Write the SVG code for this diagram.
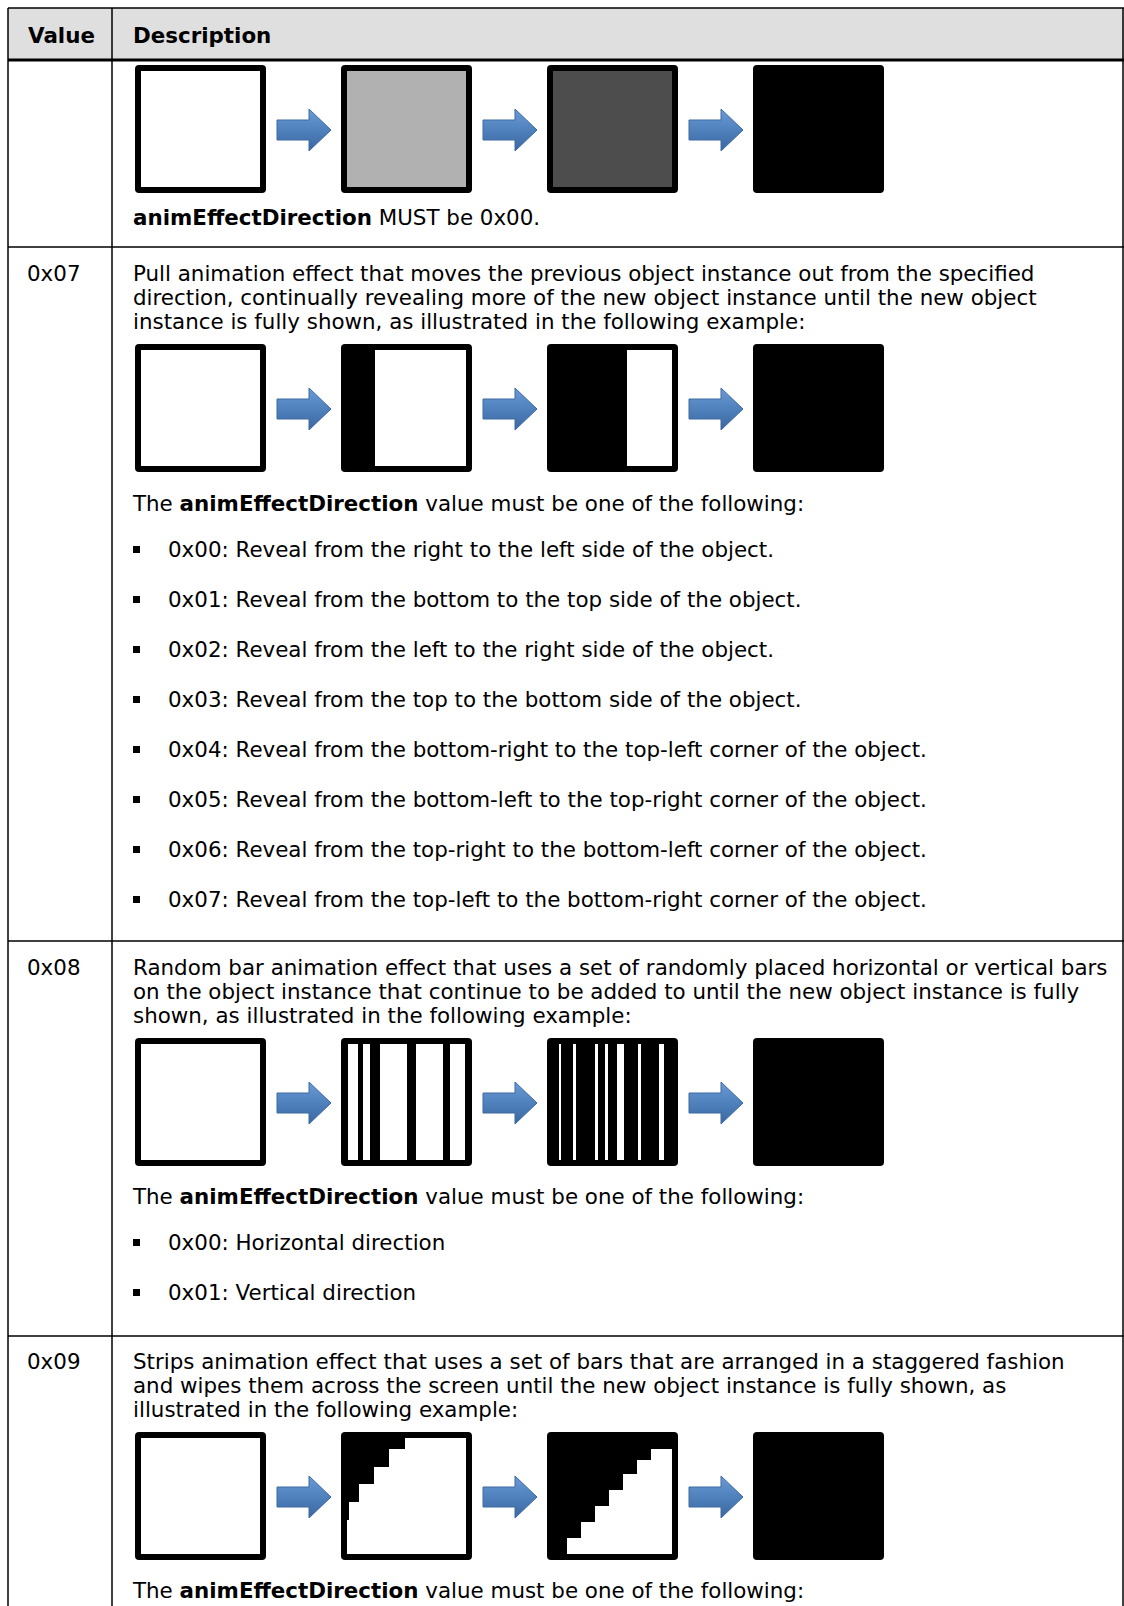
<svg xmlns="http://www.w3.org/2000/svg" xmlns:xlink="http://www.w3.org/1999/xlink" width="1124" height="1606" viewBox="0 0 1124 1606">
<style>
text{font-family:"DejaVu Sans","Verdana",sans-serif;font-size:21.4px;fill:#000}
.b{font-weight:bold}
.grid{stroke:#000;stroke-width:1.5;fill:none}
.w{fill:#fff}
</style>
<defs>
<linearGradient id="ag" x1="0" y1="0" x2="0" y2="1">
<stop offset="0" stop-color="#6b9bd6"/>
<stop offset="0.5" stop-color="#4f81bd"/>
<stop offset="1" stop-color="#3b679f"/>
</linearGradient>
<polygon id="arrow" points="0,-10 32,-10 32,-21 54,0 32,21 32,10 0,10" fill="url(#ag)" stroke="#3d6aa3" stroke-width="1"/>
<rect id="frame" x="0" y="0" width="131" height="128" rx="4" fill="#000"/>
<rect id="inner" x="6" y="6" width="119" height="116" fill="#fff"/>
<rect id="bullet" x="0" y="0" width="7" height="7" fill="#000"/>
</defs>

<g id="table">
<rect x="8" y="8" width="1116" height="52" fill="#dfdfdf"/>
<line class="grid" x1="8" y1="8" x2="1124" y2="8"/>
<line x1="8" y1="60" x2="1124" y2="60" stroke="#000" stroke-width="3"/>
<line class="grid" x1="8" y1="8" x2="8" y2="1606"/>
<line class="grid" x1="112" y1="8" x2="112" y2="1606"/>
<line class="grid" x1="1123" y1="8" x2="1123" y2="1606"/>
<line class="grid" x1="8" y1="247" x2="1124" y2="247"/>
<line class="grid" x1="8" y1="941" x2="1124" y2="941"/>
<line class="grid" x1="8" y1="1336" x2="1124" y2="1336"/>
</g>

<g id="header">
<text class="b" x="28" y="43">Value</text>
<text class="b" x="133" y="43">Description</text>
</g>

<g id="row1">
<g transform="translate(135,65)"><use xlink:href="#frame"/><use xlink:href="#inner"/></g>
<use xlink:href="#arrow" x="277" y="130"/>
<g transform="translate(341,65)"><use xlink:href="#frame"/><rect x="6" y="6" width="119" height="116" fill="#b1b1b1"/></g>
<use xlink:href="#arrow" x="483" y="130"/>
<g transform="translate(547,65)"><use xlink:href="#frame"/><rect x="6" y="6" width="119" height="116" fill="#4d4d4d"/></g>
<use xlink:href="#arrow" x="689" y="130"/>
<g transform="translate(753,65)"><use xlink:href="#frame"/></g>
<text x="133" y="225"><tspan class="b">animEffectDirection</tspan> MUST be 0x00.</text>
</g>

<g id="row2">
<text x="27" y="281">0x07</text>
<text x="133" y="281">Pull animation effect that moves the previous object instance out from the specified</text>
<text x="133" y="305">direction, continually revealing more of the new object instance until the new object</text>
<text x="133" y="329">instance is fully shown, as illustrated in the following example:</text>
<g transform="translate(135,344)"><use xlink:href="#frame"/><use xlink:href="#inner"/></g>
<use xlink:href="#arrow" x="277" y="409"/>
<g transform="translate(341,344)"><use xlink:href="#frame"/><rect x="34" y="6" width="91" height="116" fill="#fff"/></g>
<use xlink:href="#arrow" x="483" y="409"/>
<g transform="translate(547,344)"><use xlink:href="#frame"/><rect x="80" y="6" width="45" height="116" fill="#fff"/></g>
<use xlink:href="#arrow" x="689" y="409"/>
<g transform="translate(753,344)"><use xlink:href="#frame"/></g>
<text x="133" y="511">The <tspan class="b">animEffectDirection</tspan> value must be one of the following:</text>
<use xlink:href="#bullet" x="133" y="546"/>
<text x="168" y="557">0x00: Reveal from the right to the left side of the object.</text>
<use xlink:href="#bullet" x="133" y="596"/>
<text x="168" y="607">0x01: Reveal from the bottom to the top side of the object.</text>
<use xlink:href="#bullet" x="133" y="646"/>
<text x="168" y="657">0x02: Reveal from the left to the right side of the object.</text>
<use xlink:href="#bullet" x="133" y="696"/>
<text x="168" y="707">0x03: Reveal from the top to the bottom side of the object.</text>
<use xlink:href="#bullet" x="133" y="746"/>
<text x="168" y="757">0x04: Reveal from the bottom-right to the top-left corner of the object.</text>
<use xlink:href="#bullet" x="133" y="796"/>
<text x="168" y="807">0x05: Reveal from the bottom-left to the top-right corner of the object.</text>
<use xlink:href="#bullet" x="133" y="846"/>
<text x="168" y="857">0x06: Reveal from the top-right to the bottom-left corner of the object.</text>
<use xlink:href="#bullet" x="133" y="896"/>
<text x="168" y="907">0x07: Reveal from the top-left to the bottom-right corner of the object.</text>
</g>

<g id="row3">
<text x="27" y="975">0x08</text>
<text x="133" y="975">Random bar animation effect that uses a set of randomly placed horizontal or vertical bars</text>
<text x="133" y="999">on the object instance that continue to be added to until the new object instance is fully</text>
<text x="133" y="1023">shown, as illustrated in the following example:</text>
<g transform="translate(135,1038)"><use xlink:href="#frame"/><use xlink:href="#inner"/></g>
<use xlink:href="#arrow" x="277" y="1103"/>
<g transform="translate(341,1038)"><use xlink:href="#frame"/>
<rect class="w" x="7" y="6" width="10" height="116"/><rect class="w" x="22" y="6" width="7" height="116"/><rect class="w" x="39" y="6" width="27" height="116"/><rect class="w" x="75" y="6" width="27" height="116"/><rect class="w" x="109" y="6" width="15" height="116"/>
</g>
<use xlink:href="#arrow" x="483" y="1103"/>
<g transform="translate(547,1038)"><use xlink:href="#frame"/>
<rect class="w" x="12" y="6" width="2" height="116"/><rect class="w" x="26" y="6" width="3" height="116"/><rect class="w" x="48" y="6" width="3" height="116"/><rect class="w" x="58" y="6" width="3" height="116"/><rect class="w" x="70" y="6" width="7" height="116"/><rect class="w" x="91" y="6" width="3" height="116"/><rect class="w" x="112" y="6" width="5" height="116"/>
</g>
<use xlink:href="#arrow" x="689" y="1103"/>
<g transform="translate(753,1038)"><use xlink:href="#frame"/></g>
<text x="133" y="1204">The <tspan class="b">animEffectDirection</tspan> value must be one of the following:</text>
<use xlink:href="#bullet" x="133" y="1239"/>
<text x="168" y="1250">0x00: Horizontal direction</text>
<use xlink:href="#bullet" x="133" y="1289"/>
<text x="168" y="1300">0x01: Vertical direction</text>
</g>

<g id="row4">
<text x="27" y="1369">0x09</text>
<text x="133" y="1369">Strips animation effect that uses a set of bars that are arranged in a staggered fashion</text>
<text x="133" y="1393">and wipes them across the screen until the new object instance is fully shown, as</text>
<text x="133" y="1417">illustrated in the following example:</text>
<g transform="translate(135,1432)"><use xlink:href="#frame"/><use xlink:href="#inner"/></g>
<use xlink:href="#arrow" x="277" y="1497"/>
<g transform="translate(341,1432)"><use xlink:href="#frame"/><use xlink:href="#inner"/>
<polygon points="6,6 64,6 64,17 48,17 48,35 33,35 33,52 18,52 18,70 8,70 8,88 6,88" fill="#000"/>
</g>
<use xlink:href="#arrow" x="483" y="1497"/>
<g transform="translate(547,1432)"><use xlink:href="#frame"/>
<polygon points="104,17 125,17 125,122 20,122 20,106 34,106 34,90 48,90 48,74 62,74 62,58 76,58 76,42 90,42 90,28 104,28" fill="#fff"/>
</g>
<use xlink:href="#arrow" x="689" y="1497"/>
<g transform="translate(753,1432)"><use xlink:href="#frame"/></g>
<text x="133" y="1598">The <tspan class="b">animEffectDirection</tspan> value must be one of the following:</text>
</g>
</svg>
